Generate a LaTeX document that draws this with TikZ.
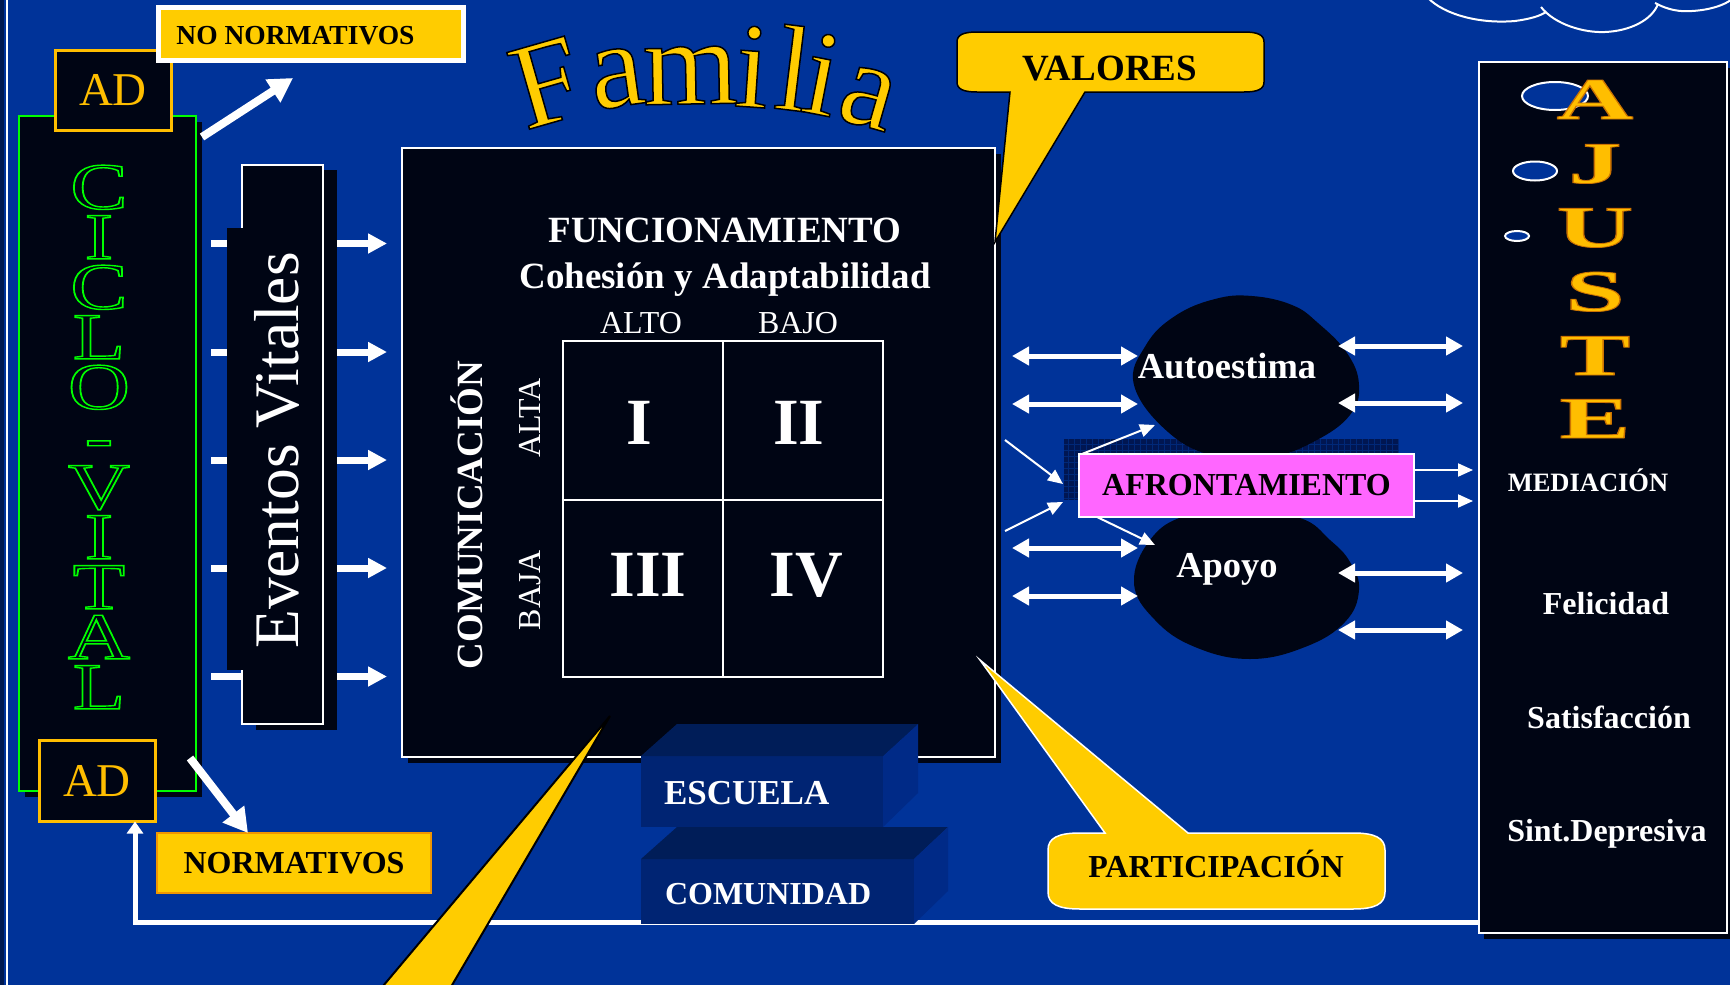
\documentclass[tikz,border=0pt]{standalone}
\usepackage{fontspec}
\setmainfont{Liberation Serif}
\usetikzlibrary{arrows.meta}
\definecolor{bgblue}{RGB}{0,51,153}
\definecolor{boxblack}{RGB}{0,5,20}
\definecolor{gold}{RGB}{255,204,0}
\definecolor{amber}{RGB}{255,190,0}
\definecolor{pinkbox}{RGB}{255,102,255}
\definecolor{cgreen}{RGB}{0,255,0}
\definecolor{cubefront}{RGB}{0,36,115}
\definecolor{cubetop}{RGB}{0,29,88}
\definecolor{cuberight}{RGB}{0,42,135}
\definecolor{patdark}{RGB}{0,22,82}
\definecolor{patline}{RGB}{0,40,120}
\definecolor{edgeleft}{RGB}{0,25,80}
\definecolor{normborder}{RGB}{240,150,0}
\newcommand\fsz[1]{\fontsize{#1}{#1}\selectfont}
\newcommand\hollowtxt[1]{\special{pdf:literal direct 1 Tr 1.4 w}#1}
\newcommand\rimtxt[2]{\special{pdf:literal direct 2 Tr #1}#2}
\begin{document}
\begin{tikzpicture}[x=1pt,y=-1pt,
  lbl/.style={inner sep=0pt, outer sep=0pt},
  wbox/.style={draw=white, line width=2pt, fill=boxblack, inner sep=0pt, outer sep=0pt},
  shadowbox/.style={fill=boxblack, inner sep=0pt, outer sep=0pt},
  thickarr/.style={white, line width=7pt, -{Triangle[length=19pt,width=19pt]}},
  dblarr/.style={white, line width=5pt, {Triangle[length=17pt,width=18pt]}-{Triangle[length=17pt,width=18pt]}},
  thinarr/.style={white, line width=2pt, -{Triangle[length=15pt,width=13pt]}},
  adarr/.style={white, line width=8pt, -{Triangle[length=24pt,width=26pt]}},
  wtxt/.style={lbl, text=white, font=\bfseries\fsz{#1}},
  btxt/.style={lbl, text=black, font=\bfseries\fsz{#1}},
  cubef/.style={fill=cubefront, inner sep=0pt, outer sep=0pt, anchor=north west}]
\useasboundingbox (0,0) rectangle (1730,985);
\fill[bgblue] (0,0) rectangle (1730,985);
\fill[edgeleft] (0,0) rectangle (4,985);
\draw[white, line width=2pt] (6.5,0) -- (6.5,985);

% cloud
\draw[white, line width=2pt] (1428,-2) .. controls (1445,15) and (1480,24) .. (1515,21) .. controls (1530,19) and (1540,16) .. (1546,12);
\draw[white, line width=2pt] (1541,7) .. controls (1555,25) and (1585,33) .. (1605,32) .. controls (1630,31) and (1652,20) .. (1658,4);
\draw[white, line width=2pt] (1655,3) .. controls (1668,10) and (1680,12) .. (1692,11) .. controls (1710,10) and (1725,5) .. (1732,-1);

% left arrows (under Eventos box)
\foreach \yy/\nm in {243.5/a,352/b,460/c,568/d,676.5/e}{
  \coordinate (ls\nm) at (211,\yy);
  \coordinate (le\nm) at (387,\yy);
  \draw[thickarr] (ls\nm) -- (le\nm);
}

% CICLO VITAL
\node[shadowbox, minimum width=177, minimum height=675, anchor=north west] (ciclosh) at (25,122) {};
\node[fill=boxblack, draw=cgreen, line width=2.5pt, minimum width=177, minimum height=675, inner sep=0pt, outer sep=0pt, anchor=north west] (ciclo) at (19,116) {};
\node[lbl, text=cgreen, font=\fontsize{66}{50}\selectfont, align=center, xscale=1.3] (ciclotxt) at (99,437) {\hollowtxt{C\\I\\C\\L\\O\\-\\V\\I\\T\\A\\L}};
\node[fill=boxblack, draw=amber, line width=3pt, minimum width=116, minimum height=80, lbl, text=amber, font=\fsz{47}] (adt) at (113,90) {AD};
\node[fill=boxblack, draw=amber, line width=3pt, minimum width=116, minimum height=81, lbl, text=amber, font=\fsz{47}] (adb) at (97,781) {AD};

% Eventos vitales
\node[shadowbox, minimum width=81, minimum height=560, anchor=north west] (evsh) at (256,170) {};
\node[wbox, minimum width=81, minimum height=559.5, anchor=north west] (ev) at (242,164.5) {};
\node[shadowbox, minimum width=94, minimum height=442, anchor=north west] (evin) at (227,228) {};
\node[lbl, text=white, font=\fsz{63.5}, rotate=90, anchor=base] (evt) at (298,450.5) {Eventos Vitales};

% main box
\node[shadowbox, minimum width=593, minimum height=609, anchor=north west] (mainsh) at (408,154) {};
\node[wbox, minimum width=593, minimum height=609, anchor=north west] (main) at (402,148) {};
\node[wtxt=37, anchor=base] (fun) at (725,242) {FUNCIONAMIENTO};
\node[wtxt=37, anchor=base] (coh) at (725,288) {Cohesión y Adaptabilidad};
\node[lbl, text=white, font=\fsz{32}, anchor=base] (alto) at (641,333) {ALTO};
\node[lbl, text=white, font=\fsz{32}, anchor=base] (bajo) at (798,333) {BAJO};
\node[draw=white, line width=2pt, minimum width=160, minimum height=159, lbl, anchor=north west] (q1) at (563,341) {};
\node[draw=white, line width=2pt, minimum width=160, minimum height=159, lbl, anchor=north west] (q2) at (723,341) {};
\node[draw=white, line width=2pt, minimum width=160, minimum height=177, lbl, anchor=north west] (q3) at (563,500) {};
\node[draw=white, line width=2pt, minimum width=160, minimum height=177, lbl, anchor=north west] (q4) at (723,500) {};
\node[wtxt=66, anchor=base] (n1) at (639,444) {I};
\node[wtxt=66, anchor=base] (n2) at (799,444) {II};
\node[wtxt=66, anchor=base] (n3) at (648,596) {III};
\node[wtxt=66, anchor=base] (n4) at (806,596) {IV};
\node[wtxt=37, rotate=90, anchor=base] (com) at (482,515) {COMUNICACIÓN};
\node[lbl, text=white, font=\fsz{32}, rotate=90, anchor=base] (alta) at (540,418) {ALTA};
\node[lbl, text=white, font=\fsz{32}, rotate=90, anchor=base] (baja) at (540,590) {BAJA};

% VALORES callout
\draw[fill=gold, draw=black, line width=1.5pt] (1010,92) -- (995,242) -- (1085,92) -- (1244,92) .. controls (1258,92) and (1264,89) .. (1264,82) -- (1264,42) .. controls (1264,35) and (1258,32) .. (1244,32) -- (977,32) .. controls (963,32) and (957,35) .. (957,42) -- (957,82) .. controls (957,89) and (963,92) .. (977,92) -- cycle;
\node[btxt=37, anchor=base] (val) at (1110,80) {VALORES};

% PARTICIPACION callout
\draw[fill=gold, draw=white, line width=1.5pt] (1105,833) -- (980,660) -- (1188,833) -- (1353,833) .. controls (1375,833) and (1385,838) .. (1385,850) -- (1385,892) .. controls (1385,904) and (1375,909) .. (1353,909) -- (1080,909) .. controls (1058,909) and (1048,904) .. (1048,892) -- (1048,850) .. controls (1048,838) and (1058,833) .. (1080,833) -- cycle;
\node[btxt=32, anchor=base] (par) at (1216,877) {PARTICIPACIÓN};

% return connector
\coordinate (retc) at (135,922);
\node[shadowbox, minimum width=249, minimum height=871, anchor=north west] (ajsh) at (1484,68) {};
\node[wbox, minimum width=248, minimum height=871, anchor=north west] (aj) at (1479,62) {};
\draw[white, line width=5pt, line join=miter, -{Triangle[length=12pt,width=16pt]}] (aj.west |- retc) -- (retc) -- (retc |- adb.south);

% cubes
\node[cubef, minimum width=242, minimum height=71] (esc) at (641,756) {};
\fill[cubetop] (esc.north west) -- ++(36,-32) -- ++(241,0) -- (esc.north east) -- cycle;
\fill[cuberight] (esc.north east) -- ++(35,-32) -- ++(0,69) -- (esc.south east) -- cycle;
\node[wtxt=35, anchor=base west] (esct) at (664,804) {ESCUELA};
\node[cubef, minimum width=273, minimum height=65] (comu) at (641,859) {};
\fill[cubetop] (comu.north west) -- ++(36,-32) -- ++(271,0) -- (comu.north east) -- cycle;
\fill[cuberight] (comu.north east) -- ++(34,-32) -- ++(0,64) -- (comu.south east) -- cycle;
\node[wtxt=32, anchor=base west] (comut) at (665,904) {COMUNIDAD};

% big bottom pointer
\draw[fill=gold, draw=black, line width=2pt] (378,992) -- (610,716) -- (448,992);

% afrontamiento area
\fill[patdark] (1064,439) rectangle (1398,500);
\draw[patline, line width=0.6pt, step=6pt] (1064,439) grid (1398,500);
\fill[boxblack] plot[smooth cycle, tension=0.7] coordinates {(1134,385) (1146,345) (1175,316) (1215,299) (1252,296) (1292,305) (1318,323) (1347,353) (1359,385) (1350,415) (1315,441) (1270,457) (1215,456) (1168,432)};
\fill[boxblack] plot[smooth cycle, tension=0.7] coordinates {(1134,583) (1150,540) (1185,516) (1240,510) (1300,518) (1330,540) (1350,562) (1359,590) (1345,622) (1305,647) (1250,659) (1195,647) (1155,620)};
\node[wtxt=36.5, anchor=base] (auto) at (1227,378) {Autoestima};
\node[wtxt=36.5, anchor=base] (apo) at (1227,577) {Apoyo};
\node[fill=pinkbox, draw=white, line width=2.5pt, minimum width=335, minimum height=63, lbl, text=black, font=\bfseries\fsz{32}] (afr) at (1246.5,485.5) {AFRONTAMIENTO};

% double arrows
\foreach \yy [count=\i] in {356,404,548,596}{
  \coordinate (dla\i) at (1012,\yy);
  \coordinate (dlb\i) at (1138,\yy);
  \draw[dblarr] (dla\i) -- (dlb\i);
}
\foreach \yy [count=\i] in {346,403,573,630}{
  \coordinate (dra\i) at (1338,\yy);
  \coordinate (drb\i) at (1463,\yy);
  \draw[dblarr] (dra\i) -- (drb\i);
}
% thin arrows
\coordinate (t1s) at (1005,440); \coordinate (t1e) at (1063,484);
\coordinate (t2s) at (1005,531); \coordinate (t2e) at (1063,502);
\coordinate (t3s) at (1082,454); \coordinate (t3e) at (1155,425);
\coordinate (t4s) at (1097,517); \coordinate (t4e) at (1155,545);
\coordinate (r1) at (1473,470); \coordinate (r2) at (1473,501);
\draw[thinarr] (t1s) -- (t1e);
\draw[thinarr] (t2s) -- (t2e);
\draw[thinarr] (t3s) -- (t3e);
\draw[thinarr] (t4s) -- (t4e);
\draw[thinarr] (afr.east |- r1) -- (r1);
\draw[thinarr] (afr.east |- r2) -- (r2);

% AJUSTE
\draw[white, line width=2pt, fill=bgblue] (1555,96) ellipse [x radius=33, y radius=14];
\draw[white, line width=2pt, fill=bgblue] (1535,171) ellipse [x radius=22, y radius=9.5];
\draw[white, line width=2pt, fill=bgblue] (1517,236) ellipse [x radius=12, y radius=5];
\foreach \lt/\yy in {A/119,J/183,U/247,S/311,T/375,E/438}{
  \node[lbl, text=amber, font=\bfseries\fsz{59}, xscale=1.8, anchor=base] (aj\lt) at (1595,\yy) {\rimtxt{0.8 0.45 0 RG 0.8 w}{\lt}};
}
\node[wtxt=26.5, anchor=base] (med) at (1588,491) {MEDIACIÓN};
\node[wtxt=32, anchor=base] (fel) at (1606,614) {Felicidad};
\node[wtxt=32, anchor=base] (sat) at (1609,728.5) {Satisfacción};
\node[wtxt=32, anchor=base] (sin) at (1607,841.5) {Sint.Depresiva};

% normativos boxes
\node[fill=gold, draw=white, line width=5pt, minimum width=305, minimum height=53, lbl] (nn) at (311,34) {};
\node[btxt=27.5, anchor=base] (nnt) at (295.5,44) {NO NORMATIVOS};
\node[fill=gold, draw=normborder, line width=2pt, minimum width=274, minimum height=60, lbl, text=black, font=\bfseries\fsz{32}] (norm) at (294,863) {NORMATIVOS};
\coordinate (at1) at (202,137); \coordinate (at2) at (293,78);
\coordinate (ab1) at (190,758); \coordinate (ab2) at (248,833);
\draw[adarr] (at1) -- (at2);
\draw[adarr] (ab1) -- (ab2);

% Familia
\foreach \ch/\xx/\yy/\rr [count=\k] in {F/558/121/16, a/621/106/8, m/691/104/1, i/750/107/-4, l/789/110/-7, i/815/114/-11, a/860/125/-16}{
  \node[lbl, text=gold, font=\fsz{122}, rotate=\rr, anchor=base] (fam\k) at (\xx,\yy) {\rimtxt{0 0 0 RG 1.5 w}{\ch}};
}
\end{tikzpicture}
\end{document}
